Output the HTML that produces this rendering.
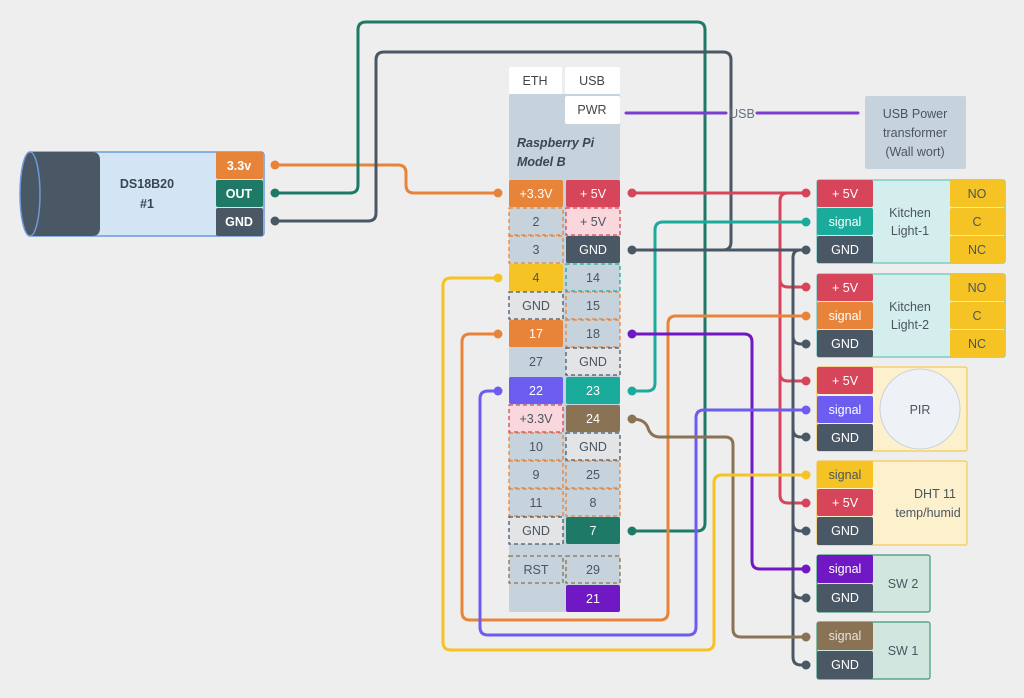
<!DOCTYPE html>
<html><head><meta charset="utf-8"><style>
html,body{margin:0;padding:0;background:#eeeeee}
svg{display:block}
text{font-family:"Liberation Sans",sans-serif;font-size:12.5px;text-anchor:middle;dominant-baseline:central}
</style></head><body>
<svg width="1024" height="698" viewBox="0 0 1024 698" xmlns="http://www.w3.org/2000/svg">
<rect width="1024" height="698" fill="#eeeeee"/>

<!-- wires -->
<g fill="none" stroke-width="3" stroke-linejoin="round" stroke-linecap="round">
 <path d="M275,165 H398 Q406,165 406,173 V185 Q406,193 414,193 H498" stroke="#e8843a"/>
 <path d="M275,193 H350 Q358,193 358,185 V30 Q358,22 366,22 H697 Q705,22 705,30 V523 Q705,531 697,531 H632" stroke="#1e7a66"/>
 <path d="M275,221 H368 Q376,221 376,213 V60 Q376,52 384,52 H723 Q731,52 731,60 V242 Q731,250 723,250 H632" stroke="#4a5866"/>
 <path d="M626,113 H726 M757,113 H858" stroke="#7a3fd0"/>
 <!-- red -->
 <path d="M632,193 H806 M806,193 H788 Q780,193 780,201 V495 Q780,503 788,503 H806 M780,279 Q780,287 788,287 H806 M780,373 Q780,381 788,381 H806" stroke="#d6455a"/>
 <!-- teal 23 -->
 <path d="M632,391 H647 Q655,391 655,383 V230 Q655,222 663,222 H806" stroke="#1aab9b"/>
 <!-- gnd bus -->
 <path d="M632,250 H806 M806,250 H800 Q793,250 793,258 V657 Q793,665 801,665 H806 M793,336 Q793,344 801,344 H806 M793,429 Q793,437 801,437 H806 M793,523 Q793,531 801,531 H806 M793,590 Q793,598 801,598 H806" stroke="#4a5866"/>
 <!-- orange 17 -->
 <path d="M498,334 H470 Q462,334 462,342 V612 Q462,620 470,620 H660 Q668,620 668,612 V324 Q668,316 676,316 H806" stroke="#e8843a"/>
 <!-- purple 18 -->
 <path d="M632,334 H744 Q752,334 752,342 V561 Q752,569 760,569 H806" stroke="#7018c4"/>
 <!-- blue 22 -->
 <path d="M498,391 H488 Q480,391 480,399 V627 Q480,635 488,635 H688 Q696,635 696,627 V418 Q696,410 704,410 H806" stroke="#6c5cf0"/>
 <!-- brown 24 -->
 <path d="M632,419 Q645,419 648,428 Q651,437 660,437 H725 Q733,437 733,445 V629 Q733,637 741,637 H806" stroke="#8a7355"/>
 <!-- yellow 4 -->
 <path d="M498,278 H451 Q443,278 443,286 V642 Q443,650 451,650 H706 Q714,650 714,642 V483 Q714,475 722,475 H806" stroke="#f5c324"/>
</g>
<text x="742" y="114" fill="#667080" font-size="12">USB</text>

<!-- dots -->
<g>
 <circle cx="275" cy="165" r="4.5" fill="#e8843a"/><circle cx="275" cy="193" r="4.5" fill="#1e7a66"/><circle cx="275" cy="221" r="4.5" fill="#4a5866"/>
 <circle cx="498" cy="193" r="4.5" fill="#e8843a"/><circle cx="632" cy="193" r="4.5" fill="#d6455a"/>
 <circle cx="632" cy="250" r="4.5" fill="#4a5866"/><circle cx="498" cy="278" r="4.5" fill="#f5c324"/>
 <circle cx="498" cy="334" r="4.5" fill="#e8843a"/><circle cx="632" cy="334" r="4.5" fill="#7018c4"/>
 <circle cx="498" cy="391" r="4.5" fill="#6c5cf0"/><circle cx="632" cy="391" r="4.5" fill="#1aab9b"/>
 <circle cx="632" cy="419" r="4.5" fill="#8a7355"/><circle cx="632" cy="531" r="4.5" fill="#1e7a66"/>
 <circle cx="806" cy="193" r="4.5" fill="#d6455a"/><circle cx="806" cy="222" r="4.5" fill="#1aab9b"/><circle cx="806" cy="250" r="4.5" fill="#4a5866"/>
 <circle cx="806" cy="287" r="4.5" fill="#d6455a"/><circle cx="806" cy="316" r="4.5" fill="#e8843a"/><circle cx="806" cy="344" r="4.5" fill="#4a5866"/>
 <circle cx="806" cy="381" r="4.5" fill="#d6455a"/><circle cx="806" cy="410" r="4.5" fill="#6c5cf0"/><circle cx="806" cy="437" r="4.5" fill="#4a5866"/>
 <circle cx="806" cy="475" r="4.5" fill="#f5c324"/><circle cx="806" cy="503" r="4.5" fill="#d6455a"/><circle cx="806" cy="531" r="4.5" fill="#4a5866"/>
 <circle cx="806" cy="569" r="4.5" fill="#7018c4"/><circle cx="806" cy="598" r="4.5" fill="#4a5866"/>
 <circle cx="806" cy="637" r="4.5" fill="#8a7355"/><circle cx="806" cy="665" r="4.5" fill="#4a5866"/>
</g>

<!-- DS18B20 -->
<rect x="28" y="152" width="236" height="84" rx="3" fill="#d3e4f4" stroke="#6a9bd8" stroke-width="1.5"/>
<path d="M30,152 H92 Q100,152 100,160 V228 Q100,236 92,236 H30 Z" fill="#4a5866"/>
<ellipse cx="30" cy="194" rx="10" ry="42" fill="#4a5866" stroke="#6a9bd8" stroke-width="1.5"/>
<text x="147" y="184" font-weight="bold" font-size="14" fill="#3a4654">DS18B20</text>
<text x="147" y="204" font-weight="bold" font-size="14" fill="#3a4654">#1</text>
<rect x="216" y="152" width="47" height="27" rx="2" fill="#e8843a"/><text x="239" y="166" fill="#fff" font-weight="bold">3.3v</text>
<rect x="216" y="180" width="47" height="27" rx="2" fill="#1e7a66"/><text x="239" y="194" fill="#fff" font-weight="bold">OUT</text>
<rect x="216" y="208" width="47" height="28" rx="2" fill="#4a5866"/><text x="239" y="222" fill="#fff" font-weight="bold">GND</text>

<!-- Pi -->
<rect x="509" y="94" width="111" height="518" rx="2" fill="#c6d2dc"/>
<rect x="509" y="67" width="53" height="27" rx="2" fill="#fff"/><text x="535" y="81" fill="#444">ETH</text>
<rect x="565" y="67" width="55" height="27" rx="2" fill="#fff"/><text x="592" y="81" fill="#444">USB</text>
<rect x="565" y="96" width="55" height="28" rx="2" fill="#fff"/><text x="592" y="110" fill="#444">PWR</text>
<text x="517" y="143" fill="#3a4654" font-style="italic" font-weight="bold" style="text-anchor:start" font-size="12">Raspberry Pi</text>
<text x="517" y="162" fill="#3a4654" font-style="italic" font-weight="bold" style="text-anchor:start" font-size="12">Model B</text>

<g stroke-width="1.3" stroke-dasharray="4,3">
<!-- left col x509 w54; right col x566 w54 -->
<rect x="509" y="180" width="54" height="27" rx="2" fill="#e8843a" stroke="none"/><text x="536" y="194" fill="#fff">+3.3V</text>
<rect x="566" y="180" width="54" height="27" rx="2" fill="#d6455a" stroke="none"/><text x="593" y="194" fill="#fff">+ 5V</text>
<rect x="509" y="208" width="54" height="27" fill="#c6d2dc" stroke="#e8843a"/><text x="536" y="222" fill="#4a5560">2</text>
<rect x="566" y="208" width="54" height="27" fill="#f9d7dc" stroke="#d6455a"/><text x="593" y="222" fill="#4a5560">+ 5V</text>
<rect x="509" y="236" width="54" height="27" fill="#c6d2dc" stroke="#e8843a"/><text x="536" y="250" fill="#4a5560">3</text>
<rect x="566" y="236" width="54" height="27" rx="2" fill="#4a5866" stroke="none"/><text x="593" y="250" fill="#fff">GND</text>
<rect x="509" y="264" width="54" height="27" rx="2" fill="#f5c324" stroke="none"/><text x="536" y="278" fill="#4a5560">4</text>
<rect x="566" y="264" width="54" height="27" fill="#c6d2dc" stroke="#1aab9b"/><text x="593" y="278" fill="#4a5560">14</text>
<rect x="509" y="292" width="54" height="27" fill="#e2e4e6" stroke="#4a5866"/><text x="536" y="306" fill="#4a5560">GND</text>
<rect x="566" y="292" width="54" height="27" fill="#c6d2dc" stroke="#e8843a"/><text x="593" y="306" fill="#4a5560">15</text>
<rect x="509" y="320" width="54" height="27" rx="2" fill="#e8843a" stroke="none"/><text x="536" y="334" fill="#fff">17</text>
<rect x="566" y="320" width="54" height="27" fill="#c6d2dc" stroke="#e8843a"/><text x="593" y="334" fill="#4a5560">18</text>
<rect x="509" y="348" width="54" height="27" fill="#c6d2dc" stroke="none"/><text x="536" y="362" fill="#4a5560">27</text>
<rect x="566" y="348" width="54" height="27" fill="#e2e4e6" stroke="#4a5866"/><text x="593" y="362" fill="#4a5560">GND</text>
<rect x="509" y="377" width="54" height="27" rx="2" fill="#6c5cf0" stroke="none"/><text x="536" y="391" fill="#fff">22</text>
<rect x="566" y="377" width="54" height="27" rx="2" fill="#1aab9b" stroke="none"/><text x="593" y="391" fill="#fff">23</text>
<rect x="509" y="405" width="54" height="27" fill="#f9d7dc" stroke="#d6455a"/><text x="536" y="419" fill="#4a5560">+3.3V</text>
<rect x="566" y="405" width="54" height="27" rx="2" fill="#8a7355" stroke="none"/><text x="593" y="419" fill="#fff">24</text>
<rect x="509" y="433" width="54" height="27" fill="#c6d2dc" stroke="#e8843a"/><text x="536" y="447" fill="#4a5560">10</text>
<rect x="566" y="433" width="54" height="27" fill="#e2e4e6" stroke="#4a5866"/><text x="593" y="447" fill="#4a5560">GND</text>
<rect x="509" y="461" width="54" height="27" fill="#c6d2dc" stroke="#e8843a"/><text x="536" y="475" fill="#4a5560">9</text>
<rect x="566" y="461" width="54" height="27" fill="#c6d2dc" stroke="#e8843a"/><text x="593" y="475" fill="#4a5560">25</text>
<rect x="509" y="489" width="54" height="27" fill="#c6d2dc" stroke="#e8843a"/><text x="536" y="503" fill="#4a5560">11</text>
<rect x="566" y="489" width="54" height="27" fill="#c6d2dc" stroke="#e8843a"/><text x="593" y="503" fill="#4a5560">8</text>
<rect x="509" y="517" width="54" height="27" fill="#e2e4e6" stroke="#4a5866"/><text x="536" y="531" fill="#4a5560">GND</text>
<rect x="566" y="517" width="54" height="27" rx="2" fill="#1e7a66" stroke="none"/><text x="593" y="531" fill="#fff">7</text>
<rect x="509" y="556" width="54" height="27" fill="#c6d2dc" stroke="#8a7355"/><text x="536" y="570" fill="#4a5560">RST</text>
<rect x="566" y="556" width="54" height="27" fill="#c6d2dc" stroke="#8a7355"/><text x="593" y="570" fill="#4a5560">29</text>
<rect x="566" y="585" width="54" height="27" rx="2" fill="#7018c4" stroke="none"/><text x="593" y="599" fill="#fff">21</text>
</g>

<!-- USB power -->
<rect x="865" y="96" width="101" height="73" rx="2" fill="#c6d2dc"/>
<text x="915" y="114" fill="#4a5560">USB Power</text>
<text x="915" y="133" fill="#4a5560">transformer</text>
<text x="915" y="152" fill="#4a5560">(Wall wort)</text>

<!-- Kitchen Light 1 -->
<rect x="817" y="180" width="188" height="83" rx="2" fill="#d4eeee" stroke="#6cc4b8" stroke-width="1.2"/>
<rect x="950" y="180" width="55" height="27" rx="2" fill="#f5c324"/><text x="977" y="194" fill="#4a5560">NO</text>
<rect x="950" y="208" width="55" height="27" rx="2" fill="#f5c324"/><text x="977" y="222" fill="#4a5560">C</text>
<rect x="950" y="236" width="55" height="27" rx="2" fill="#f5c324"/><text x="977" y="250" fill="#4a5560">NC</text>
<rect x="817" y="180" width="56" height="27" rx="2" fill="#d6455a"/><text x="845" y="194" fill="#fff">+ 5V</text>
<rect x="817" y="208" width="56" height="27" rx="2" fill="#1aab9b"/><text x="845" y="222" fill="#fff">signal</text>
<rect x="817" y="236" width="56" height="27" rx="2" fill="#4a5866"/><text x="845" y="250" fill="#fff">GND</text>
<text x="910" y="213" fill="#4a5560">Kitchen</text><text x="910" y="231" fill="#4a5560">Light-1</text>

<!-- Kitchen Light 2 -->
<rect x="817" y="274" width="188" height="83" rx="2" fill="#d4eeee" stroke="#6cc4b8" stroke-width="1.2"/>
<rect x="950" y="274" width="55" height="27" rx="2" fill="#f5c324"/><text x="977" y="288" fill="#4a5560">NO</text>
<rect x="950" y="302" width="55" height="27" rx="2" fill="#f5c324"/><text x="977" y="316" fill="#4a5560">C</text>
<rect x="950" y="330" width="55" height="27" rx="2" fill="#f5c324"/><text x="977" y="344" fill="#4a5560">NC</text>
<rect x="817" y="274" width="56" height="27" rx="2" fill="#d6455a"/><text x="845" y="288" fill="#fff">+ 5V</text>
<rect x="817" y="302" width="56" height="27" rx="2" fill="#e8843a"/><text x="845" y="316" fill="#fff">signal</text>
<rect x="817" y="330" width="56" height="27" rx="2" fill="#4a5866"/><text x="845" y="344" fill="#fff">GND</text>
<text x="910" y="307" fill="#4a5560">Kitchen</text><text x="910" y="325" fill="#4a5560">Light-2</text>

<!-- PIR -->
<rect x="817" y="367" width="150" height="84" rx="2" fill="#fdf0cc" stroke="#f5c85a" stroke-width="1.2"/>
<circle cx="920" cy="409" r="40" fill="#eef2f6" stroke="#c6d2dc"/>
<text x="920" y="410" fill="#4a5560">PIR</text>
<rect x="817" y="367" width="56" height="27" rx="2" fill="#d6455a"/><text x="845" y="381" fill="#fff">+ 5V</text>
<rect x="817" y="396" width="56" height="27" rx="2" fill="#6c5cf0"/><text x="845" y="410" fill="#fff">signal</text>
<rect x="817" y="424" width="56" height="27" rx="2" fill="#4a5866"/><text x="845" y="438" fill="#fff">GND</text>

<!-- DHT -->
<rect x="817" y="461" width="150" height="84" rx="2" fill="#fdf0cc" stroke="#f5c85a" stroke-width="1.2"/>
<text x="935" y="494" fill="#4a5560">DHT 11</text><text x="928" y="513" fill="#4a5560">temp/humid</text>
<rect x="817" y="461" width="56" height="27" rx="2" fill="#f5c324"/><text x="845" y="475" fill="#4a5560">signal</text>
<rect x="817" y="489" width="56" height="27" rx="2" fill="#d6455a"/><text x="845" y="503" fill="#fff">+ 5V</text>
<rect x="817" y="517" width="56" height="28" rx="2" fill="#4a5866"/><text x="845" y="531" fill="#fff">GND</text>

<!-- SW2 -->
<rect x="817" y="555" width="113" height="57" rx="2" fill="#d1e6df" stroke="#3f9a7a" stroke-width="1.2"/>
<text x="903" y="584" fill="#4a5560">SW 2</text>
<rect x="817" y="555" width="56" height="28" rx="2" fill="#7018c4"/><text x="845" y="569" fill="#fff">signal</text>
<rect x="817" y="584" width="56" height="28" rx="2" fill="#4a5866"/><text x="845" y="598" fill="#fff">GND</text>

<!-- SW1 -->
<rect x="817" y="622" width="113" height="57" rx="2" fill="#d1e6df" stroke="#3f9a7a" stroke-width="1.2"/>
<text x="903" y="651" fill="#4a5560">SW 1</text>
<rect x="817" y="622" width="56" height="28" rx="2" fill="#8a7355"/><text x="845" y="636" fill="#e8e4dc">signal</text>
<rect x="817" y="651" width="56" height="28" rx="2" fill="#4a5866"/><text x="845" y="665" fill="#fff">GND</text>
</svg>
</body></html>
